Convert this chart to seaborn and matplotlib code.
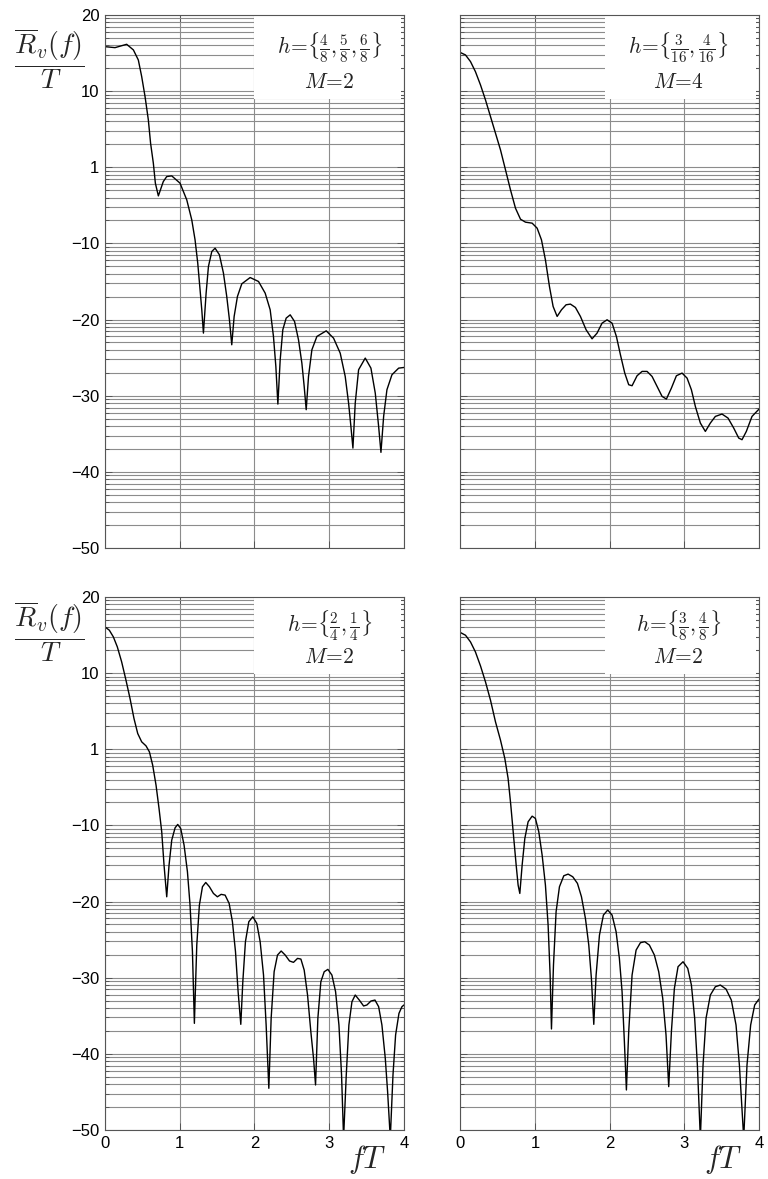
import numpy as np
import pandas as pd
import seaborn as sns
import matplotlib.pyplot as plt
from matplotlib.ticker import FixedLocator, FixedFormatter, LogLocator, NullFormatter
from matplotlib.patches import Rectangle

# --- data (fT, level in "dB" as on the axis) ---
fT_a = [0.0, 0.134, 0.29, 0.38, 0.446, 0.491, 0.536, 0.58, 0.61, 0.647, 0.674, 0.714, 0.78, 0.826,
        0.893, 1.004, 1.094, 1.161, 1.205, 1.241, 1.272, 1.295, 1.317, 1.353, 1.384, 1.429, 1.473,
        1.531, 1.585, 1.629, 1.665, 1.696, 1.728, 1.772, 1.83, 1.942, 2.054, 2.143, 2.21, 2.254,
        2.286, 2.313, 2.344, 2.379, 2.424, 2.478, 2.536, 2.589, 2.634, 2.665, 2.692, 2.723, 2.768,
        2.835, 2.96, 3.058, 3.147, 3.214, 3.259, 3.29, 3.317, 3.348, 3.393, 3.482, 3.558, 3.616,
        3.661, 3.692, 3.728, 3.772, 3.839, 3.929, 4.0]
db_a = [15.84, 15.71, 16.15, 15.41, 14.09, 11.91, 9.28, 6.22, 3.16, 0.53, -2.09, -3.76, -1.88, -1.22,
        -1.13, -2.09, -4.28, -6.91, -9.53, -12.59, -16.09, -18.72, -21.78, -16.53, -13.03, -11.06, -10.63,
        -11.5, -13.91, -16.97, -20.03, -23.31, -19.59, -16.97, -15.31, -14.48, -15.0, -16.53, -18.72, -22.22,
        -26.16, -31.1, -25.28, -21.34, -19.81, -19.38, -20.25, -22.66, -25.72, -28.78, -31.84, -27.47, -23.97,
        -22.22, -21.48, -22.44, -24.41, -27.47, -30.97, -34.03, -36.88, -30.97, -26.59, -25.06, -26.38, -29.66,
        -34.03, -37.44, -32.72, -29.22, -27.25, -26.38, -26.29]

fT_b = [0.0, 0.067, 0.134, 0.2, 0.268, 0.335, 0.402, 0.469, 0.536, 0.603, 0.67, 0.737, 0.804, 0.871,
        0.96, 1.027, 1.085, 1.138, 1.192, 1.241, 1.295, 1.353, 1.415, 1.473, 1.54, 1.607, 1.683, 1.763,
        1.83, 1.897, 1.964, 2.031, 2.089, 2.143, 2.201, 2.254, 2.299, 2.366, 2.433, 2.5, 2.567, 2.634,
        2.701, 2.759, 2.826, 2.893, 2.969, 3.036, 3.094, 3.147, 3.214, 3.281, 3.348, 3.415, 3.504, 3.585,
        3.661, 3.728, 3.772, 3.83, 3.906, 4.0]
db_b = [15.06, 14.75, 13.88, 12.56, 10.81, 8.84, 6.66, 4.47, 2.28, -0.34, -2.97, -5.38, -6.82, -7.21,
        -7.34, -8.0, -9.53, -12.16, -15.66, -18.28, -19.59, -18.72, -18.06, -17.97, -18.41, -19.59, -21.34, -22.53,
        -21.78, -20.47, -20.03, -20.47, -22.22, -24.62, -27.03, -28.56, -28.69, -27.38, -26.81, -26.81, -27.47, -28.78,
        -30.09, -30.44, -29.0, -27.38, -27.03, -27.69, -29.22, -31.41, -33.59, -34.69, -33.59, -32.72, -32.41, -32.94,
        -34.25, -35.56, -35.78, -34.69, -32.72, -31.76]

fT_c = [0.0, 0.058, 0.112, 0.165, 0.223, 0.281, 0.335, 0.388, 0.438, 0.491, 0.549, 0.594, 0.638, 0.683,
        0.723, 0.759, 0.79, 0.826, 0.857, 0.893, 0.938, 0.973, 1.013, 1.058, 1.103, 1.138, 1.17, 1.196,
        1.228, 1.263, 1.304, 1.348, 1.397, 1.451, 1.504, 1.554, 1.607, 1.661, 1.705, 1.746, 1.781, 1.817,
        1.844, 1.879, 1.924, 1.978, 2.031, 2.076, 2.121, 2.156, 2.192, 2.223, 2.263, 2.308, 2.357, 2.411,
        2.469, 2.522, 2.576, 2.621, 2.665, 2.71, 2.754, 2.79, 2.817, 2.848, 2.888, 2.933, 2.982, 3.036,
        3.085, 3.13, 3.165, 3.192, 3.228, 3.263, 3.304, 3.348, 3.402, 3.46, 3.504, 3.558, 3.612, 3.661,
        3.705, 3.75, 3.781, 3.817, 3.853, 3.888, 3.933, 3.973, 4.0]
db_c = [16.06, 15.63, 14.75, 13.44, 11.47, 9.06, 6.66, 4.03, 2.06, 0.97, 0.44, -0.34, -2.09, -4.72,
        -7.78, -10.84, -15.22, -19.38, -15.22, -11.94, -10.32, -9.88, -10.41, -12.59, -16.09, -20.47, -26.59, -36.0,
        -25.72, -20.47, -18.06, -17.5, -18.06, -18.94, -19.38, -19.06, -19.16, -20.25, -22.66, -26.59, -31.84, -36.13,
        -30.53, -25.28, -22.66, -22.0, -22.88, -25.28, -29.66, -36.22, -44.53, -35.34, -29.22, -27.03, -26.5, -27.03,
        -27.81, -27.99, -27.47, -27.56, -29.0, -32.28, -37.09, -40.59, -44.09, -35.34, -30.53, -29.22, -28.91, -29.66,
        -31.84, -36.22, -42.78, -51.09, -42.78, -36.22, -33.16, -32.28, -32.94, -33.72, -33.59, -33.07, -32.94, -33.81,
        -36.22, -40.59, -44.97, -51.09, -42.78, -37.53, -34.69, -33.81, -33.59]

fT_d = [0.0, 0.067, 0.134, 0.2, 0.268, 0.335, 0.402, 0.469, 0.536, 0.594, 0.638, 0.674, 0.71, 0.746,
        0.772, 0.795, 0.826, 0.862, 0.906, 0.96, 1.004, 1.049, 1.094, 1.138, 1.174, 1.201, 1.219, 1.246,
        1.281, 1.326, 1.384, 1.442, 1.504, 1.567, 1.621, 1.674, 1.719, 1.754, 1.786, 1.817, 1.862, 1.915,
        1.973, 2.031, 2.085, 2.129, 2.165, 2.196, 2.223, 2.254, 2.299, 2.353, 2.411, 2.469, 2.531, 2.598,
        2.656, 2.71, 2.754, 2.79, 2.826, 2.866, 2.915, 2.982, 3.045, 3.094, 3.138, 3.174, 3.214, 3.25,
        3.29, 3.348, 3.415, 3.482, 3.558, 3.629, 3.692, 3.737, 3.795, 3.839, 3.888, 3.942, 4.0]
db_d = [15.32, 14.97, 14.09, 12.78, 10.94, 8.84, 6.44, 3.59, 1.19, -1.22, -3.84, -7.34, -11.28, -15.22,
        -17.84, -18.94, -15.22, -11.72, -9.53, -8.79, -9.09, -10.84, -13.91, -17.84, -23.09, -29.66, -36.74, -28.34,
        -21.34, -18.06, -16.62, -16.4, -16.75, -17.62, -19.38, -22.22, -25.72, -30.09, -36.13, -29.66, -24.41, -21.78,
        -21.12, -21.78, -23.97, -27.47, -31.84, -38.4, -44.75, -37.09, -29.66, -26.38, -25.41, -25.28, -25.72, -27.03,
        -29.22, -32.72, -37.53, -44.31, -37.09, -31.41, -28.56, -27.91, -28.78, -30.97, -35.34, -41.47, -51.09, -41.47,
        -35.34, -32.28, -31.19, -30.97, -31.5, -32.94, -36.22, -41.47, -51.09, -41.47, -36.22, -33.59, -32.81]

h_labels = [r'$h\!=\!\{\frac{4}{8},\frac{5}{8},\frac{6}{8}\}$',
            r'$h\!=\!\{\frac{3}{16},\frac{4}{16}\}$',
            r'$h\!=\!\{\frac{2}{4},\frac{1}{4}\}$',
            r'$h\!=\!\{\frac{3}{8},\frac{4}{8}\}$']
m_labels = [r'$M\!=\!2$', r'$M\!=\!4$', r'$M\!=\!2$', r'$M\!=\!2$']
ytick_labels = ['\u221250', '\u221240', '\u221230', '\u221220', '\u221210', '1', '10', '20']
xticks = [0, 1, 2, 3, 4]

sns.set_theme(style="white")
plt.rcParams['font.family'] = ['Liberation Sans', 'DejaVu Sans']
plt.rcParams['mathtext.fontset'] = 'cm'

fig = plt.figure(figsize=(7.68, 11.79), dpi=100)

# axes rectangles [left, bottom, width, height]
rects = [[0.1367, 0.5352, 0.3893, 0.4521],
         [0.5996, 0.5352, 0.3887, 0.4521],
         [0.1367, 0.0416, 0.3893, 0.4521],
         [0.5996, 0.0416, 0.3887, 0.4521]]
curves = [(fT_a, db_a), (fT_b, db_b), (fT_c, db_c), (fT_d, db_d)]
grid_col = '#8c8c8c'

for i, (rect, (fx, fy)) in enumerate(zip(rects, curves)):
    ax = fig.add_axes(rect)
    df = pd.DataFrame({'fT': fx, 'R': 10 ** (np.array(fy) / 10)})
    sns.lineplot(data=df, x='fT', y='R', ax=ax, color='black', lw=1.0)
    ax.set_yscale('log')
    ax.set_ylim(1e-5, 1e2)
    ax.set_xlim(0, 4)
    ax.set_xlabel('')
    ax.set_ylabel('')

    ax.yaxis.set_major_locator(FixedLocator(10.0 ** np.arange(-5, 3)))
    ax.yaxis.set_major_formatter(FixedFormatter(ytick_labels))
    ax.yaxis.set_minor_locator(LogLocator(base=10, subs=np.arange(2, 10), numticks=30))
    ax.yaxis.set_minor_formatter(NullFormatter())
    ax.set_xticks(xticks)
    ax.set_xticklabels([str(t) for t in xticks])

    ax.set_axisbelow(True)
    ax.grid(True, which='major', axis='both', color=grid_col, lw=0.8)
    ax.grid(True, which='minor', axis='y', color=grid_col, lw=0.8)
    ax.tick_params(which='both', direction='in', left=True, right=True, top=True, bottom=True,
                   color='#555555', labelsize=12, labelcolor='black', pad=4)
    ax.tick_params(which='major', length=5, width=0.7)
    ax.tick_params(which='minor', length=3, width=0.7)
    for s in ax.spines.values():
        s.set_color('#555555')
        s.set_linewidth(0.8)

    if i % 2 == 1:
        ax.tick_params(labelleft=False)
    if i < 2:
        ax.tick_params(labelbottom=False)

    # white label box in the upper right
    x0 = 0.498 if i % 2 == 0 else 0.484
    cx = 0.75 if i % 2 == 0 else 0.73
    if i < 2:
        bh, y1, y2 = 0.158, 0.938, 0.874
    else:
        bh, y1, y2 = 0.144, 0.947, 0.887
    ax.add_patch(Rectangle((x0, 1 - bh), 0.99 - x0, bh, transform=ax.transAxes,
                           facecolor='white', edgecolor='none', zorder=1))
    ax.text(cx, y1, h_labels[i], transform=ax.transAxes, ha='center', va='center',
            fontsize=15.5, color='#222222', zorder=3)
    ax.text(cx, y2, m_labels[i], transform=ax.transAxes, ha='center', va='center',
            fontsize=15.5, color='#222222', zorder=3)

ylab = r'$\dfrac{\overline{R}_v(f)}{T}$'
fig.text(0.0645, 0.9505, ylab, fontsize=20, ha='center', va='center')
fig.text(0.0645, 0.4640, ylab, fontsize=20, ha='center', va='center')
fig.text(0.478, 0.0165, r'$fT$', fontsize=22, ha='center', va='center')
fig.text(0.9414, 0.0165, r'$fT$', fontsize=22, ha='center', va='center')

fig.savefig('out.png', dpi=100)
